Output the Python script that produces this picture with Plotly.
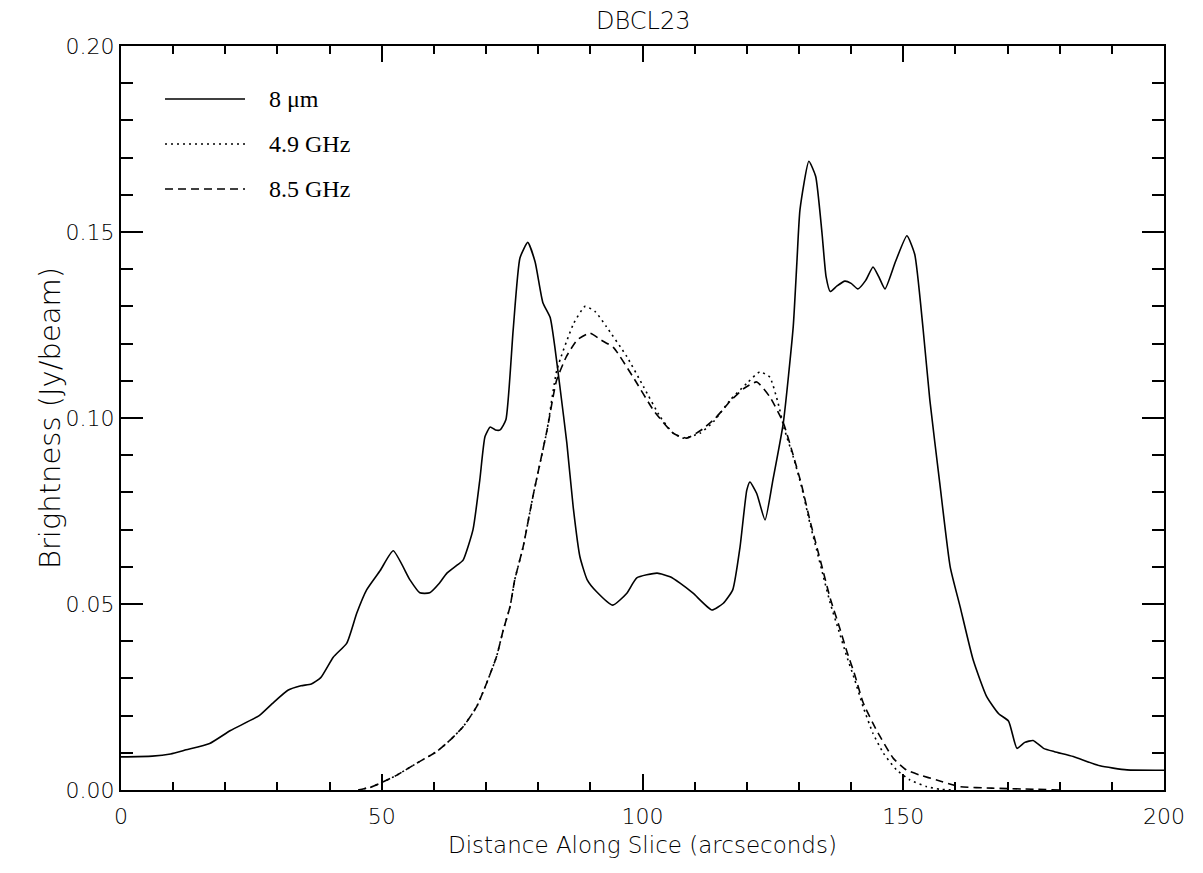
import plotly.graph_objects as go

# === Data: 8 micron slice ===
x_8um = [0, 6, 9.5, 12.5, 17, 21, 26.5, 29, 32, 34.5, 36.5, 38.3, 40.7, 43.3, 45.2,
         47.1, 49.7, 52.2, 55.4, 57.3, 59.2, 61, 62.5, 64.5, 65.6, 67.5, 68.8, 69.8,
         70.8, 71.8, 72.7, 73.8, 75.2, 76.5, 78.0, 79.4, 80.9, 82.3, 83.2, 84.2, 85.5,
         86.7, 88.0, 89.4, 91.2, 94.3, 97.0, 98.9, 102.8, 105.3, 107.2, 109.7, 113.3,
         115.5, 117.3, 118.7, 120.0, 120.6, 121.9, 123.5, 125.0, 127.0, 128.9, 129.6,
         130.2, 131.9, 133.2, 134.4, 135.2, 136.0, 137.3, 138.8, 140.0, 141.3, 142.8,
         144.2, 145.3, 146.5, 148.5, 150.7, 152.2, 153.8, 155.1, 157.0, 159.0, 160.9,
         163.4, 166.0, 168.3, 170.2, 171.8, 173.3, 174.9, 176.9, 179.0, 182.6, 187.7,
         192.9, 200]
y_8um = [0.0089, 0.0091, 0.0097, 0.0108, 0.0125, 0.0160, 0.0200, 0.0232, 0.0268, 0.0280,
         0.0285, 0.0302, 0.0357, 0.0395, 0.0475, 0.0538, 0.0590, 0.0643, 0.0565, 0.0530,
         0.0530, 0.0555, 0.0583, 0.0605, 0.0618, 0.0700, 0.0833, 0.0950, 0.0976, 0.0968,
         0.0968, 0.0995, 0.1237, 0.1430, 0.1472, 0.1420, 0.1310, 0.1270, 0.1190, 0.1080,
         0.0932, 0.0762, 0.0627, 0.0565, 0.0533, 0.0497, 0.0529, 0.0570, 0.0583, 0.0573,
         0.0556, 0.0529, 0.0484, 0.0502, 0.0538, 0.0653, 0.0806, 0.0828, 0.0797, 0.0726,
         0.0833, 0.0987, 0.1245, 0.1417, 0.1560, 0.1690, 0.1650, 0.1500, 0.1380, 0.1340,
         0.1355, 0.1368, 0.1362, 0.1347, 0.1370, 0.1406, 0.1380, 0.1347, 0.1420, 0.1490,
         0.1440, 0.1240, 0.1048, 0.0825, 0.0600, 0.0493, 0.0350, 0.0251, 0.0205, 0.0185,
         0.0112, 0.0128, 0.0133, 0.0112, 0.0103, 0.0090, 0.0065, 0.0054, 0.0053]

# === Data: 4.9 GHz slice ===
x_49 = [45.5, 46.2, 48.0, 50.3, 52.9, 56.7, 60.5, 63.1, 65.6, 68.2, 70.1, 72.0, 73.3,
        74.6, 75.5, 77.1, 79.0, 81.7, 83.6, 86.8, 89.0, 91.0, 93.1, 97.0, 100.2, 103.4,
        105.9, 107.8, 111.0, 113.6, 116.8, 120.0, 122.5, 124.4, 126.0, 127.2, 128.9,
        130.5, 132.1, 133.4, 134.7, 136.0, 137.6, 139.2, 140.7, 142.3, 144.2, 146.2,
        148.7, 151.3, 154.5, 157.0, 160.0]
y_49 = [0.0, 0.0002, 0.0008, 0.0022, 0.0040, 0.0072, 0.0103, 0.0134, 0.0170, 0.0224,
        0.0287, 0.0358, 0.0430, 0.0493, 0.0565, 0.0653, 0.0790, 0.0968, 0.1130, 0.1254,
        0.1300, 0.1285, 0.1245, 0.1165, 0.1084, 0.1003, 0.0959, 0.0946, 0.0959, 0.0990,
        0.1048, 0.1093, 0.1124, 0.1110, 0.1040, 0.0970, 0.0896, 0.0815, 0.0717, 0.0645,
        0.0573, 0.0502, 0.0430, 0.0358, 0.0296, 0.0224, 0.0152, 0.0099, 0.0054, 0.0027,
        0.0009, 0.0002, 0.0]

# === Data: 8.5 GHz slice ===
x_85 = [45.5, 46.2, 48.0, 50.3, 52.9, 56.7, 60.5, 63.1, 65.6, 68.2, 70.1, 72.0, 73.3,
        74.6, 75.5, 77.1, 79.0, 81.7, 83.5, 85.4, 87.5, 89.9, 92.0, 94.4, 98.2, 102.1,
        105.9, 108.5, 111.5, 114.0, 116.8, 119.5, 121.9, 124.4, 127.0, 128.9, 130.5,
        132.1, 133.4, 134.7, 136.0, 137.6, 139.2, 140.7, 142.3, 144.9, 148.1, 150.6,
        153.2, 156.4, 160.9, 167.0, 175.0, 180.0]
y_85 = [0.0, 0.0002, 0.0008, 0.0022, 0.0040, 0.0072, 0.0103, 0.0134, 0.0170, 0.0224,
        0.0287, 0.0358, 0.0430, 0.0493, 0.0565, 0.0653, 0.0790, 0.0968, 0.1100, 0.1165,
        0.1210, 0.1228, 0.1210, 0.1190, 0.1110, 0.1021, 0.0959, 0.0946, 0.0970, 0.1000,
        0.1045, 0.1080, 0.1097, 0.1057, 0.0987, 0.0900, 0.0820, 0.0725, 0.0655, 0.0585,
        0.0515, 0.0445, 0.0372, 0.0310, 0.0235, 0.0160, 0.0085, 0.0054, 0.0040, 0.0027,
        0.0009, 0.0005, 0.0002, 0.0]

legend_labels = ["8 μm", "4.9 GHz", "8.5 GHz"]
legend_dashes = ["solid", "2px,4px", "8px,5px"]

# === Figure ===
fig = go.Figure()
fig.add_trace(go.Scatter(x=x_8um, y=y_8um, mode="lines",
                         line=dict(color="black", width=1.6, shape="spline", smoothing=0.5)))
fig.add_trace(go.Scatter(x=x_49, y=y_49, mode="lines",
                         line=dict(color="black", width=1.6, dash="2px,4px", shape="spline", smoothing=0.5)))
fig.add_trace(go.Scatter(x=x_85, y=y_85, mode="lines",
                         line=dict(color="black", width=1.6, dash="8px,5px", shape="spline", smoothing=0.5)))

# hand-drawn legend (IDL style: long sample lines, serif text)
for i, (lab, dsh) in enumerate(zip(legend_labels, legend_dashes)):
    yy = 0.9288 - i * 0.0605
    fig.add_shape(type="line", xref="paper", yref="paper", x0=0.0422, x1=0.1189,
                  y0=yy, y1=yy, line=dict(color="black", width=1.6, dash=dsh))
    fig.add_annotation(xref="paper", yref="paper", x=0.14, y=yy, text=lab,
                       showarrow=False, xanchor="left", yanchor="middle",
                       font=dict(family="Liberation Serif", size=24, color="black"))

tick_font = dict(family="DejaVu Sans", size=22, color="black", weight=300)

fig.update_xaxes(range=[0, 200], tickvals=[0, 50, 100, 150, 200],
                 showgrid=False, zeroline=False, showline=True, linecolor="black",
                 linewidth=2, mirror="allticks", ticks="inside", ticklen=16,
                 tickwidth=1.5, tickcolor="black", tickfont=tick_font,
                 ticklabelstandoff=6,
                 minor=dict(dtick=10, ticks="inside", ticklen=8, tickwidth=1.5,
                            tickcolor="black", showgrid=False))
fig.update_yaxes(range=[0, 0.2], tickvals=[0, 0.05, 0.1, 0.15, 0.2],
                 ticktext=["0.00", "0.05", "0.10", "0.15", "0.20"],
                 showgrid=False, zeroline=False, showline=True, linecolor="black",
                 linewidth=2, mirror="allticks", ticks="inside", ticklen=22,
                 tickwidth=1.5, tickcolor="black", tickfont=tick_font,
                 minor=dict(dtick=0.01, ticks="inside", ticklen=12, tickwidth=1.5,
                            tickcolor="black", showgrid=False))

fig.add_annotation(xref="paper", yref="paper", x=0.5, y=-0.074, yanchor="middle",
                   text="Distance Along Slice (arcseconds)", showarrow=False,
                   font=dict(family="DejaVu Sans", size=23, color="black", weight=300))
fig.add_annotation(xref="paper", yref="paper", x=-0.068, y=0.5, xanchor="center",
                   yanchor="middle", text="Brightness (Jy/beam)", textangle=-90,
                   showarrow=False,
                   font=dict(family="DejaVu Sans", size=29, color="black", weight=300))
fig.add_annotation(xref="paper", yref="paper", x=0.5, y=1.034, yanchor="middle",
                   text="DBCL23", showarrow=False,
                   font=dict(family="DejaVu Sans", size=24, color="black", weight=300))

# page body has an 8px margin, so the figure is 8px smaller than the window
fig.update_layout(width=1195, height=865, showlegend=False,
                  plot_bgcolor="white", paper_bgcolor="white",
                  margin=dict(l=113, r=39, t=38, b=83))

fig.write_html("out.html")
